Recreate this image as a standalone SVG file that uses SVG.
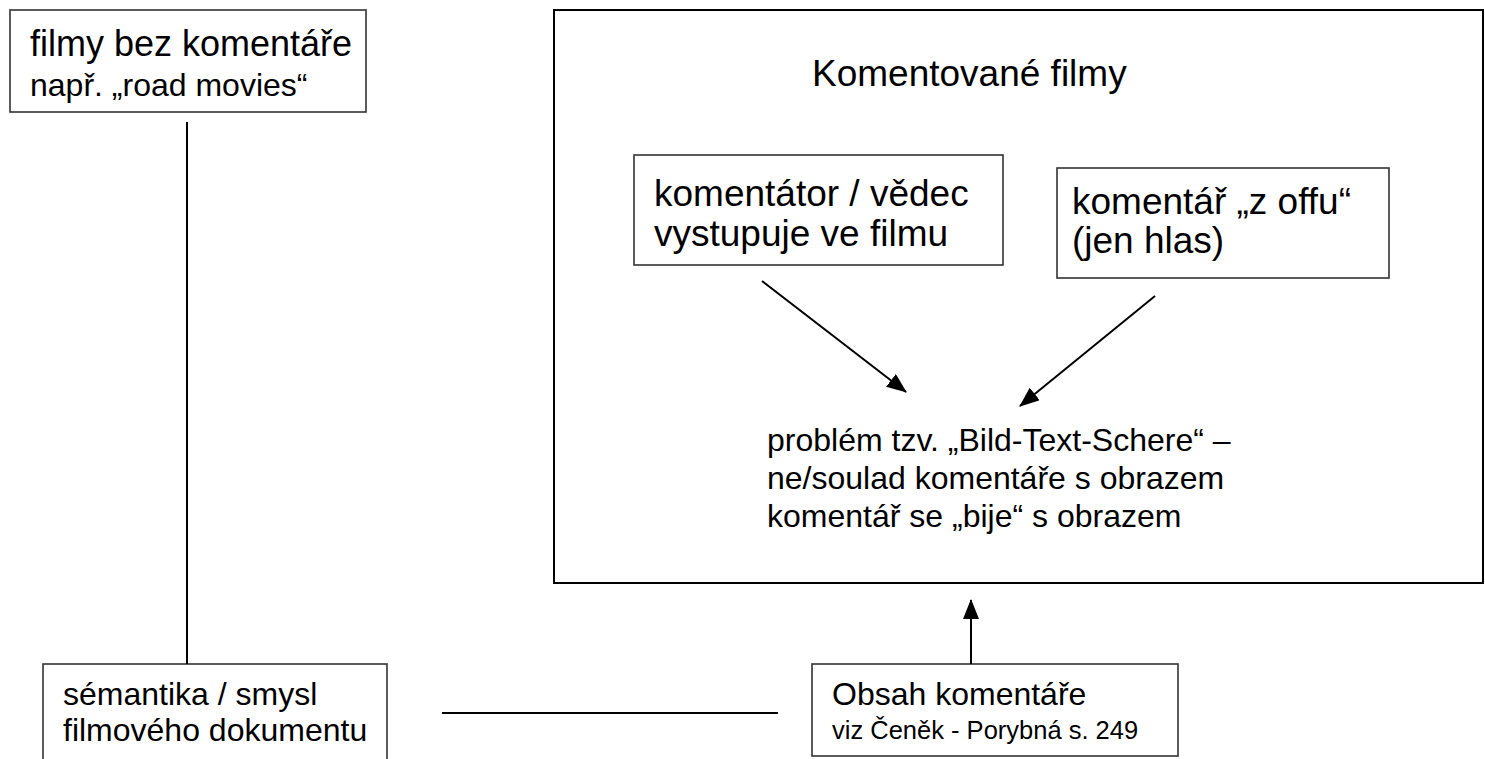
<svg xmlns="http://www.w3.org/2000/svg" width="1485" height="759" viewBox="0 0 1485 759">
<style>
  text { font-family: "Liberation Sans", Arial, sans-serif; fill: #000; }
  .box { fill: #fff; stroke: #333; stroke-width: 1.6; }
  .frame { fill: #fff; stroke: #000; stroke-width: 2; }
  .ln { stroke: #000; stroke-width: 2; fill: none; }
  .big { font-size: 37px; }
  .mid { font-size: 32px; }
  .sm { font-size: 25.5px; }
</style>
<defs>
  <marker id="ah" viewBox="0 0 20 16" refX="19" refY="8" markerWidth="20" markerHeight="16" markerUnits="userSpaceOnUse" orient="auto">
    <path d="M0,0 L20,8 L0,16 z" fill="#000"/>
  </marker>
</defs>
<rect width="1485" height="759" fill="#fff"/>

<g id="komentovane-filmy">
  <rect class="frame" x="554" y="10" width="929" height="573"/>
  <text class="big" x="812" y="86">Komentované filmy</text>
</g>

<g id="filmy-bez-komentare">
  <rect class="box" x="10" y="10" width="356" height="102"/>
  <text class="big" x="30" y="56" style="font-size:36px">filmy bez komentáře</text>
  <text class="mid" x="30" y="96">např. „road movies“</text>
</g>

<g id="komentator">
  <rect class="box" x="634" y="155" width="369" height="110"/>
  <text class="big" x="654" y="206">komentátor / vědec</text>
  <text class="big" x="654" y="246">vystupuje ve filmu</text>
</g>

<g id="komentar-z-offu">
  <rect class="box" x="1057" y="168" width="332" height="110"/>
  <text class="big" x="1072" y="214">komentář „z offu“</text>
  <text class="big" x="1072" y="253">(jen hlas)</text>
</g>

<g id="problem">
  <text class="mid" x="767" y="451">problém tzv. „Bild-Text-Schere“ –</text>
  <text class="mid" x="767" y="489">ne/soulad komentáře s obrazem</text>
  <text class="mid" x="767" y="527">komentář se „bije“ s obrazem</text>
</g>

<g id="semantika">
  <rect class="box" x="43" y="664" width="344" height="110"/>
  <text class="mid" x="63" y="705">sémantika / smysl</text>
  <text class="mid" x="63" y="741">filmového dokumentu</text>
</g>

<g id="obsah-komentare">
  <rect class="box" x="812" y="664" width="366" height="92"/>
  <text class="mid" x="832" y="705">Obsah komentáře</text>
  <text class="sm" x="832" y="739">viz Čeněk - Porybná s. 249</text>
</g>

<g id="connectors">
  <line class="ln" x1="187" y1="122" x2="187" y2="664"/>
  <line class="ln" x1="442" y1="713" x2="778" y2="713"/>
  <line class="ln" x1="971" y1="664" x2="971" y2="600" marker-end="url(#ah)"/>
  <line class="ln" x1="762" y1="281" x2="906" y2="392" marker-end="url(#ah)"/>
  <line class="ln" x1="1155" y1="296" x2="1020" y2="406" marker-end="url(#ah)"/>
</g>
</svg>
